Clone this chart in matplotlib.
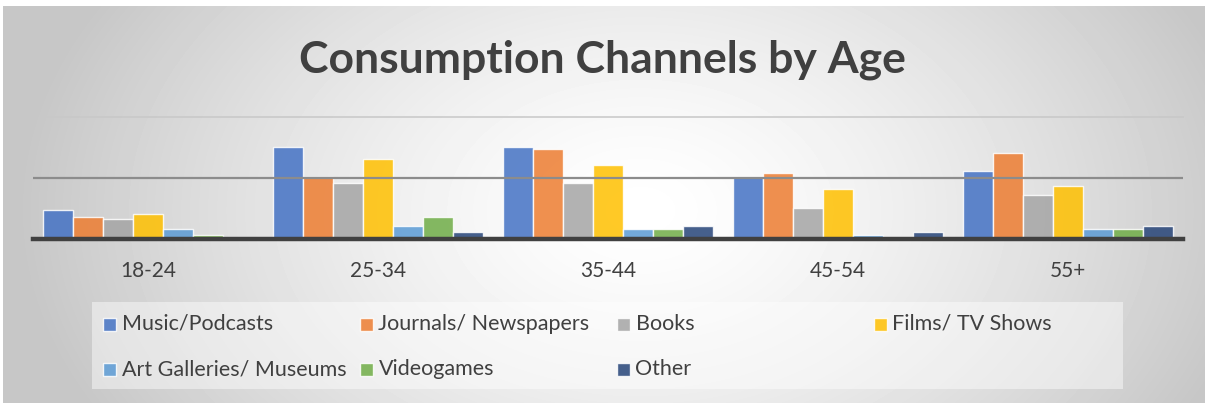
import numpy as np
import matplotlib.pyplot as plt
from matplotlib.patches import Rectangle

plt.rcParams['font.family'] = ['Lato', 'DejaVu Sans']

ages = ['18-24', '25-34', '35-44', '45-54', '55+']
channels = ['Music/Podcasts', 'Journals/ Newspapers', 'Books', 'Films/ TV Shows',
            'Art Galleries/ Museums', 'Videogames', 'Other']
colors = ['#4472C4', '#ED7D31', '#A5A5A5', '#FFC000', '#5B9BD5', '#70AD47', '#264478']

music = [4.7, 15.2, 15.2, 10.1, 11.1]
journals = [3.6, 10.1, 14.8, 10.8, 14.2]
books = [3.2, 9.2, 9.2, 5.1, 7.2]
films = [4.1, 13.2, 12.2, 8.2, 8.6]
art = [1.6, 2.1, 1.6, 0.6, 1.6]
videogames = [0.55, 3.6, 1.6, 0.0, 1.6]
other = [0.1, 1.0, 2.1, 1.0, 2.1]
series = [music, journals, books, films, art, videogames, other]

W, H = 1205, 403
fig = plt.figure(figsize=(W / 100, H / 100), dpi=100)

# radial grey background
bg = fig.add_axes([0, 0, 1, 1], zorder=-2)
yy, xx = np.mgrid[0:H, 0:W]
r = np.sqrt(((xx - 640) / 620.0) ** 2 + ((yy - 210) / 420.0) ** 2)
shade = 1 - 0.22 * np.clip(r, 0, 1) ** 1.4
shade[:6, :] = 1.0
shade[:, :3] = 1.0
bg.imshow(shade, cmap='gray', vmin=0, vmax=1, aspect='auto', interpolation='bilinear')
bg.set_axis_off()

ax = fig.add_axes([33 / W, (H - 238.5) / H, 1150 / W, 121 / H])
ax.set_facecolor('none')

x = np.arange(len(ages))
bw = 0.13
for i, (vals, c) in enumerate(zip(series, colors)):
    ax.bar(x + (i - 3) * bw, vals, bw, color=c, alpha=0.85,
           edgecolor=(1, 1, 1, 0.6), linewidth=1, zorder=2)

ax.axhline(10, color='#8c8c8c', lw=1.6, zorder=3)
ax.axhline(20, color='#c8c8c8', lw=1.4, alpha=0.8, zorder=1, clip_on=False)
ax.axhline(0, color='#404040', lw=3.2, zorder=4, clip_on=False)
ax.set_xlim(-0.5, len(ages) - 0.5)
ax.set_ylim(0, 20)
ax.set_yticks([])
ax.set_xticks(x)
ax.set_xticklabels(ages, fontsize=15, color='#404040')
ax.tick_params(axis='x', length=0, pad=16)
for s in ax.spines.values():
    s.set_visible(False)

fig.text(0.5, (H - 60) / H, 'Consumption Channels by Age', ha='center', va='center',
         fontsize=32, fontweight='bold', color='#404040')

# legend laid out like the spreadsheet: four equal columns, two rows
fig.add_artist(Rectangle((92 / W, (H - 389) / H), (1123 - 92) / W, 87 / H,
                         transform=fig.transFigure, facecolor='white', alpha=0.45,
                         edgecolor='none', zorder=1))
for i, (name, c) in enumerate(zip(channels, colors)):
    col, row = i % 4, i // 4
    x0 = 102.5 + col * 257
    yc = 324 + row * 45
    fig.add_artist(Rectangle((x0 / W, (H - yc - 6.5) / H), 13 / W, 13 / H,
                             transform=fig.transFigure, facecolor=c, alpha=0.85,
                             edgecolor=(1, 1, 1, 0.6), lw=1, zorder=2))
    fig.text((x0 + 19) / W, (H - yc) / H, name, ha='left', va='center',
             fontsize=15.5, color='#404040', zorder=3)

fig.savefig('out.png', dpi=100)
